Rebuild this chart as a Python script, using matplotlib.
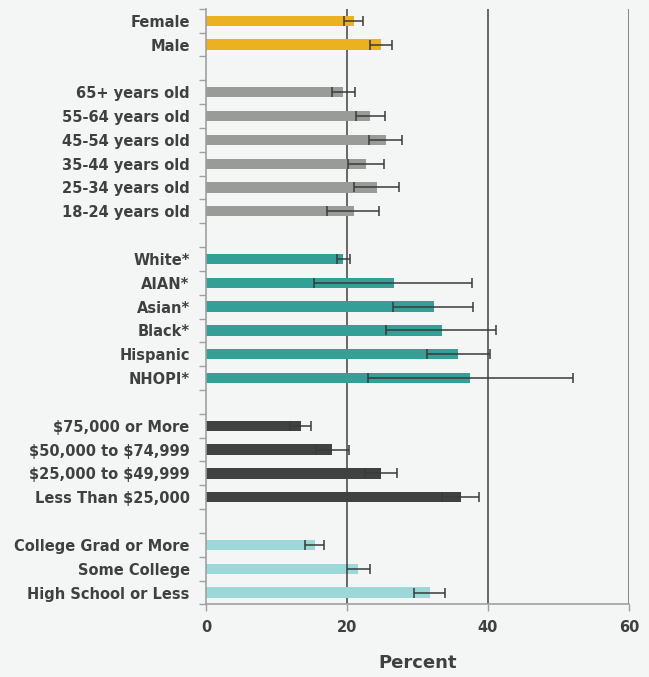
import matplotlib
matplotlib.use("Agg")
import matplotlib.pyplot as plt
import numpy as np

# ---- data ----
sex_labels = ["Female", "Male"]
sex_values = [20.9, 24.8]
sex_low = [19.5, 23.2]
sex_high = [22.2, 26.3]

age_labels = ["65+ years old", "55-64 years old", "45-54 years old",
              "35-44 years old", "25-34 years old", "18-24 years old"]
age_values = [19.4, 23.3, 25.5, 22.6, 24.2, 20.9]
age_low = [17.9, 21.3, 23.1, 20.1, 21.0, 17.1]
age_high = [21.1, 25.3, 27.8, 25.2, 27.3, 24.5]

race_labels = ["White*", "AIAN*", "Asian*", "Black*", "Hispanic", "NHOPI*"]
race_values = [19.4, 26.6, 32.3, 33.4, 35.8, 37.5]
race_low = [18.5, 15.3, 26.5, 25.5, 31.3, 22.9]
race_high = [20.4, 37.7, 37.9, 41.2, 40.3, 52.1]

income_labels = ["$75,000 or More", "$50,000 to $74,999",
                 "$25,000 to $49,999", "Less Than $25,000"]
income_values = [13.4, 17.9, 24.8, 36.1]
income_low = [11.9, 15.6, 22.5, 33.5]
income_high = [14.9, 20.2, 27.0, 38.7]

edu_labels = ["College Grad or More", "Some College", "High School or Less"]
edu_values = [15.4, 21.6, 31.7]
edu_low = [14.0, 19.9, 29.5]
edu_high = [16.7, 23.2, 33.9]

group_colors = ["#EBB120", "#9A9A99", "#339F97", "#404141", "#9DD8D8"]
x_ticks = [0, 20, 40, 60]
x_label = "Percent"

groups = [
    (sex_labels, sex_values, sex_low, sex_high),
    (age_labels, age_values, age_low, age_high),
    (race_labels, race_values, race_low, race_high),
    (income_labels, income_values, income_low, income_high),
    (edu_labels, edu_values, edu_low, edu_high),
]

# ---- figure ----
plt.rcParams['font.family'] = ['DejaVu Sans']
plt.rcParams['text.parse_math'] = False
text_color = "#404040"
bg = "#F4F6F5"

fig = plt.figure(figsize=(6.49, 6.77), dpi=100, facecolor=bg)
ax = fig.add_axes([0.318, 0.1072, 0.651, 0.8798], facecolor=bg)

pos = 0
ytick_pos, ytick_lab = [], []
for gi, (labs, vals, lo, hi) in enumerate(groups):
    ys = np.arange(pos, pos + len(labs))
    vals = np.array(vals); lo = np.array(lo); hi = np.array(hi)
    ax.barh(ys, vals, height=0.43, color=group_colors[gi], zorder=2)
    ax.errorbar(vals, ys, xerr=[vals - lo, hi - vals], fmt='none',
                ecolor="#3a3a3a", elinewidth=1.1, capsize=3.3, capthick=1.1, zorder=3)
    ytick_pos.extend(ys); ytick_lab.extend(labs)
    pos += len(labs) + 1
n_slots = pos - 1

ax.set_ylim(n_slots - 0.5, -0.5)
ax.set_xlim(0, 60)
ax.set_yticks(ytick_pos)
ax.set_yticklabels(ytick_lab)
ax.set_yticks(np.arange(-0.5, n_slots, 1.0), minor=True)
ax.tick_params(axis='y', which='major', length=0, pad=12, labelsize=10.5,
               labelcolor=text_color)
ax.tick_params(axis='y', which='minor', length=5, width=1, color="#a0a0a0")
for t in ax.get_yticklabels():
    t.set_fontweight('bold')

ax.set_xticks(x_ticks)
ax.tick_params(axis='x', length=5, width=1, color="#a0a0a0", labelsize=10.5,
               labelcolor=text_color, pad=6)
for t in ax.get_xticklabels():
    t.set_fontweight('bold')

for xv in x_ticks[1:-1]:
    ax.axvline(xv, color="#404040", lw=1.1, zorder=1)
ax.axvline(x_ticks[-1], color="#8a8a8a", lw=1.5, zorder=1)

for s in ['top', 'right']:
    ax.spines[s].set_visible(False)
for s in ['left', 'bottom']:
    ax.spines[s].set_color("#a0a0a0")
    ax.spines[s].set_linewidth(1.2)

ax.set_xlabel(x_label, fontsize=13, fontweight='bold', color=text_color, labelpad=14)

fig.savefig("out.png", dpi=100, facecolor=bg)
